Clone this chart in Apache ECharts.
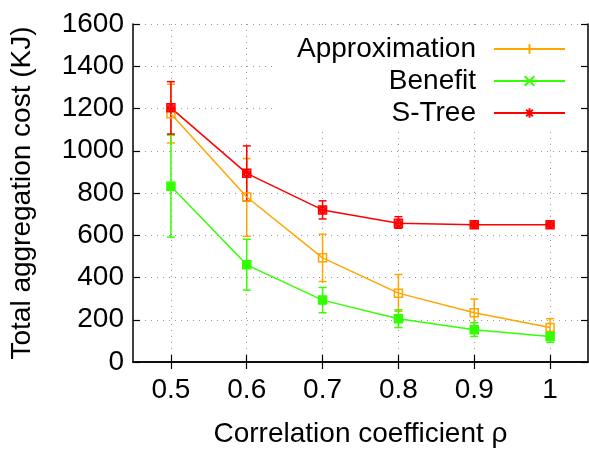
<!DOCTYPE html>
<html>
<head>
<meta charset="utf-8">
<script src="https://cdn.jsdelivr.net/npm/echarts@6/dist/echarts.min.js"></script>
<style>
    html, body { margin: 0; padding: 0; background: #fff; }
    #chart { width: 589px; height: 453px; }
</style>
</head>
<body>
<div id="chart"></div>
<script>
(function () {
    'use strict';

    // x categories (correlation coefficient)
    var rho = [0.5, 0.6, 0.7, 0.8, 0.9, 1];

    // Approximation: mean / lower / upper of error bar
    var approxMean = [1175, 781, 493, 326, 233, 163];
    var approxLow  = [1037, 595, 381, 240, 168, 121];
    var approxHigh = [1315, 963, 605, 414, 298, 205];

    // Benefit
    var benefitMean = [832, 460, 293, 205, 153, 121];
    var benefitLow  = [591, 340, 233, 163, 121, 93];
    var benefitHigh = [1074, 581, 353, 247, 186, 144];

    // S-Tree
    var streeMean = [1203, 893, 720, 657, 650, 650];
    var streeLow  = [1079, 763, 677, 633, 641, 641];
    var streeHigh = [1327, 1023, 763, 688, 659, 659];

    var yMin = 0, yMax = 1600, yStep = 200;

    var FONT = '"Liberation Sans", Arial, sans-serif';
    var ORANGE = '#ffa500';
    var GREEN = '#33ff00';
    var RED = '#ff0000';

    var SQUARE = 'path://M0,0L10,0L10,10L0,10Z';
    var SQUARE_STAR = 'path://M0,0L10,0L10,10L0,10Z M8.5,5A3.5,3.5 0 1 1 1.5,5A3.5,3.5 0 1 1 8.5,5 M5,0L5,10 M0,5L10,5';
    var PLUS = 'path://M5,0L5,10M0,5L10,5';
    var CROSS = 'path://M1,1L9,9M9,1L1,9';
    var STAR = 'path://M5,0L5,10M0,5L10,5M1.5,1.5L8.5,8.5M8.5,1.5L1.5,8.5';

    function zip(xs, a, b) {
        var out = [];
        for (var i = 0; i < xs.length; i++) {
            out.push(b ? [xs[i], a[i], b[i]] : [xs[i], a[i]]);
        }
        return out;
    }

    function errorBars(color, low, high) {
        return {
            type: 'custom',
            data: zip(rho, low, high),
            encode: { x: 0, y: [1, 2] },
            silent: true,
            renderItem: function (params, api) {
                var lo = api.coord([api.value(0), api.value(1)]);
                var hi = api.coord([api.value(0), api.value(2)]);
                var w = 4;
                var st = { stroke: color, lineWidth: 1.5 };
                return {
                    type: 'group',
                    children: [
                        { type: 'line', shape: { x1: lo[0], y1: lo[1], x2: hi[0], y2: hi[1] }, style: st },
                        { type: 'line', shape: { x1: lo[0] - w, y1: lo[1], x2: lo[0] + w, y2: lo[1] }, style: st },
                        { type: 'line', shape: { x1: hi[0] - w, y1: hi[1], x2: hi[0] + w, y2: hi[1] }, style: st }
                    ]
                };
            }
        };
    }

    // empty series only used for the legend icons (gnuplot style line + point)
    function legendProxy(name, color, symbol) {
        return {
            name: name,
            type: 'line',
            data: [],
            symbol: symbol,
            itemStyle: { color: color, borderColor: color, borderWidth: 1.5 },
            lineStyle: { color: color, width: 1.5 }
        };
    }

    function curve(name, color, mean, symbol, fill) {
        return {
            name: name,
            type: 'line',
            data: zip(rho, mean),
            symbol: symbol,
            symbolSize: 8,
            itemStyle: { color: fill, borderColor: color, borderWidth: 1.5 },
            lineStyle: { color: color, width: 1.5 },
            silent: true
        };
    }

    var gridLine = { show: true, lineStyle: { color: '#999', width: 1, type: [1, 5] } };
    var frame = { show: true, lineStyle: { color: '#000', width: 1.5 } };
    var tickIn = { show: true, inside: true, length: 7, lineStyle: { color: '#000', width: 1.2 } };

    var chart = echarts.init(document.getElementById('chart'));

    chart.setOption({
        animation: false,
        backgroundColor: '#fff',
        textStyle: { fontFamily: FONT },
        grid: { left: 130, right: 1, top: 24, bottom: 85, containLabel: false },
        legend: {
            data: ['Approximation', 'Benefit', 'S-Tree'],
            orient: 'vertical',
            align: 'right',
            right: 11,
            top: 30,
            padding: [3, 12, 2, 22],
            itemGap: 0,
            itemWidth: 71,
            itemHeight: 12,
            selectedMode: false,
            backgroundColor: '#fff',
            textStyle: { fontFamily: FONT, fontSize: 28, color: '#000', lineHeight: 32, padding: [0, 13, 0, 0] }
        },
        xAxis: [{
            type: 'value',
            min: 0.45,
            max: 1.05,
            name: 'Correlation coefficient ρ',
            nameLocation: 'middle',
            nameGap: 58,
            nameTextStyle: { fontFamily: FONT, fontSize: 28, color: '#000' },
            axisLine: frame,
            axisTick: Object.assign({ customValues: rho }, tickIn),
            axisLabel: { customValues: rho, fontFamily: FONT, fontSize: 28, color: '#000', margin: 14 },
            splitLine: gridLine
        }, {
            type: 'value',
            position: 'top',
            min: 0.45,
            max: 1.05,
            axisLine: frame,
            axisTick: Object.assign({ customValues: rho }, tickIn),
            axisLabel: { show: false, customValues: rho },
            splitLine: { show: false }
        }],
        yAxis: [{
            type: 'value',
            min: yMin,
            max: yMax,
            interval: yStep,
            name: 'Total aggregation cost (KJ)',
            nameLocation: 'middle',
            nameGap: 97,
            nameTextStyle: { fontFamily: FONT, fontSize: 28, color: '#000' },
            axisLine: frame,
            axisTick: tickIn,
            axisLabel: {
                fontFamily: FONT, fontSize: 28, color: '#000', margin: 9,
                formatter: function (v) { return String(v); }
            },
            splitLine: gridLine
        }, {
            type: 'value',
            position: 'right',
            min: yMin,
            max: yMax,
            interval: yStep,
            axisLine: frame,
            axisTick: tickIn,
            axisLabel: { show: false },
            splitLine: { show: false }
        }],
        series: [
            legendProxy('Approximation', ORANGE, PLUS),
            legendProxy('Benefit', GREEN, CROSS),
            legendProxy('S-Tree', RED, STAR),
            errorBars(ORANGE, approxLow, approxHigh),
            curve('Approximation', ORANGE, approxMean, SQUARE, 'rgba(0,0,0,0)'),
            errorBars(GREEN, benefitLow, benefitHigh),
            curve('Benefit', GREEN, benefitMean, 'rect', GREEN),
            errorBars(RED, streeLow, streeHigh),
            curve('S-Tree', RED, streeMean, SQUARE_STAR, 'rgba(255,0,0,0.45)')
        ]
    });
})();
</script>
</body>
</html>
